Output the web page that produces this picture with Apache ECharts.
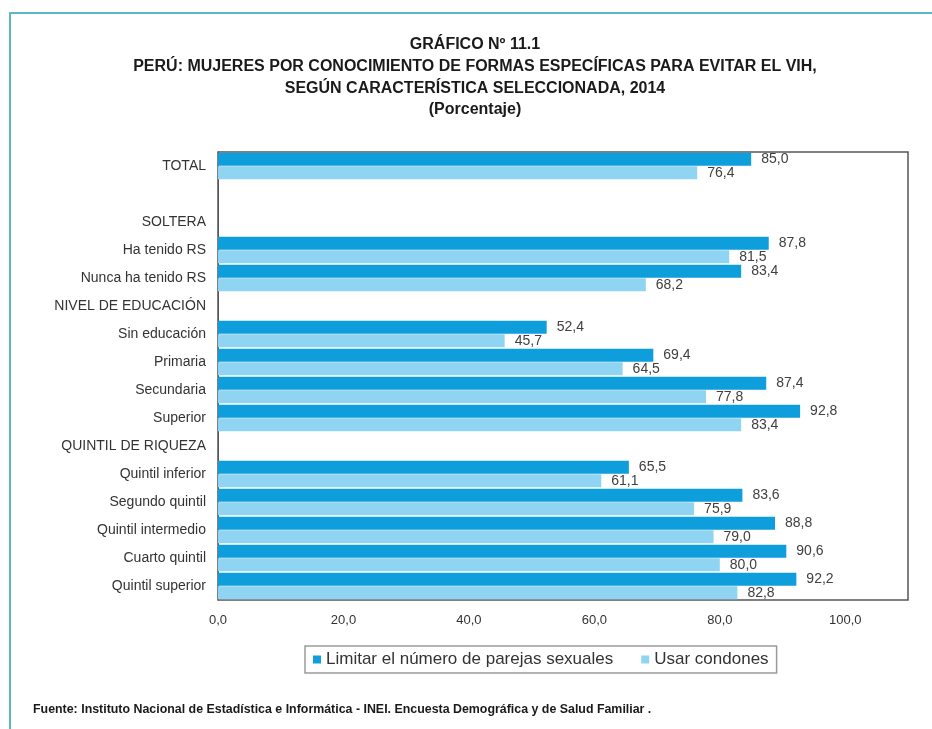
<!DOCTYPE html>
<html>
<head>
<meta charset="utf-8">
<script src="https://cdn.jsdelivr.net/npm/echarts@6/dist/echarts.min.js"></script>
<style>
	html, body { margin: 0; padding: 0; background: #fff; }
	#chart { width: 932px; height: 729px; }
	.frame {
		position: absolute; left: 9px; top: 12px; right: 0; bottom: 0;
		border-left: 2px solid #5fb6c4; border-top: 2px solid #5fb6c4;
		pointer-events: none;
	}
</style>
</head>
<body>
<div id="chart"></div>
<div class="frame"></div>
<script>
const categories = ['TOTAL', '', 'SOLTERA', 'Ha tenido RS', 'Nunca ha tenido RS', 'NIVEL DE EDUCACIÓN',
	'Sin educación', 'Primaria', 'Secundaria', 'Superior', 'QUINTIL DE RIQUEZA',
	'Quintil inferior', 'Segundo quintil', 'Quintil intermedio', 'Cuarto quintil', 'Quintil superior']
const limitarData = [85.0, null, null, 87.8, 83.4, null, 52.4, 69.4, 87.4, 92.8, null, 65.5, 83.6, 88.8, 90.6, 92.2]
const condonesData = [76.4, null, null, 81.5, 68.2, null, 45.7, 64.5, 77.8, 83.4, null, 61.1, 75.9, 79.0, 80.0, 82.8]
const seriesNames = ['Limitar el número de parejas sexuales', 'Usar condones']
const titleLines = [
	'GRÁFICO Nº 11.1',
	'PERÚ: MUJERES POR CONOCIMIENTO DE FORMAS ESPECÍFICAS PARA EVITAR EL VIH,',
	'SEGÚN CARACTERÍSTICA SELECCIONADA, 2014',
	'(Porcentaje)'
]
const sourceText = 'Fuente: Instituto Nacional de Estadística e Informática - INEI. Encuesta Demográfica y de Salud Familiar .'

const font = "'Liberation Sans', Arial, sans-serif"
const fmt = (v) => v.toFixed(1).replace('.', ',')

const chart = echarts.init(document.getElementById('chart'))

const valueLabel = {
	show: true,
	position: 'right',
	distance: 10,
	color: '#404040',
	fontSize: 14,
	fontFamily: font,
	formatter: (p) => fmt(p.value)
}

const option = {
	backgroundColor: '#fff',
	animation: false,
	title: {
		text: titleLines.join('\n'),
		left: 470,
		textAlign: 'center',
		top: 29,
		textStyle: {
			fontFamily: font,
			fontWeight: 'bold',
			fontSize: 16,
			lineHeight: 21.7,
			color: '#1a1a1a',
			align: 'center'
		}
	},
	legend: {
		data: seriesNames,
		left: 305,
		top: 646,
		icon: 'rect',
		itemWidth: 8,
		itemHeight: 8,
		itemGap: 28,
		padding: [5, 8, 5, 8],
		borderColor: '#9a9a9a',
		borderWidth: 1.5,
		textStyle: { fontFamily: font, fontSize: 17, color: '#333' }
	},
	grid: {
		left: 218, right: 24, top: 152, bottom: 129,
		show: true,
		borderColor: '#555',
		borderWidth: 1.5
	},
	xAxis: {
		type: 'value',
		min: 0,
		max: 110,
		interval: 20,
		splitLine: { show: false },
		axisLine: { show: false },
		axisTick: { show: false },
		axisLabel: {
			margin: 14,
			showMaxLabel: false,
			color: '#333',
			fontSize: 13,
			fontFamily: font,
			formatter: (v) => v % 20 === 0 ? fmt(v) : ''
		}
	},
	yAxis: {
		type: 'category',
		inverse: true,
		data: categories,
		axisTick: { show: false },
		axisLine: { show: true, lineStyle: { color: '#555', width: 1 } },
		axisLabel: { margin: 12, color: '#333', fontSize: 14, fontFamily: font }
	},
	series: [{
		name: seriesNames[0],
		type: 'bar',
		data: limitarData,
		barGap: '4%',
		barCategoryGap: '6%',
		itemStyle: { color: '#0f9edc' },
		label: valueLabel
	}, {
		name: seriesNames[1],
		type: 'bar',
		data: condonesData,
		itemStyle: { color: '#8fd4f2' },
		label: valueLabel
	}],
	graphic: [{
		type: 'text',
		left: 33,
		top: 704,
		style: {
			text: sourceText,
			fill: '#1a1a1a',
			font: 'bold 12.4px ' + font
		}
	}]
}

chart.setOption(option)
</script>
</body>
</html>
